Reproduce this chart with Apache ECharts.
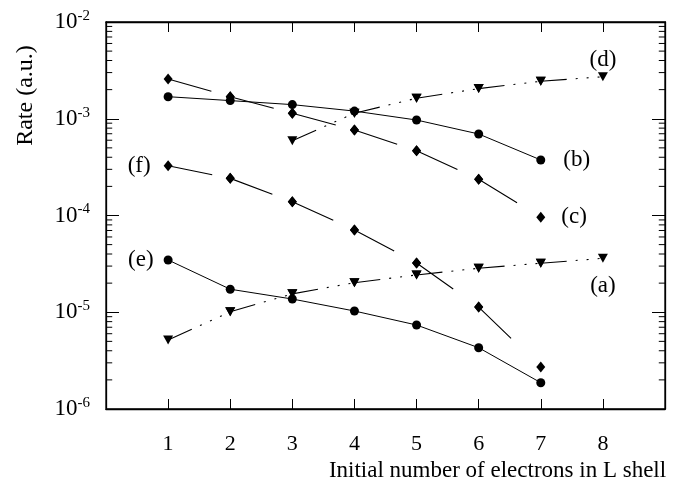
<!DOCTYPE html>
<html><head><meta charset="utf-8">
<script src="https://cdn.jsdelivr.net/npm/echarts@6/dist/echarts.min.js"></script>
<style>html,body{margin:0;padding:0;background:#fff}#c{width:680px;height:485px}</style>
</head><body><div id="c"></div>
<script>
// ---- data ----
const xTickLabels = [1, 2, 3, 4, 5, 6, 7, 8];
const xA = [1, 2, 3, 4, 5, 6, 7, 8];
const rateA = [5.16e-6, 1.01e-5, 1.55e-5, 2.02e-5, 2.43e-5, 2.85e-5, 3.21e-5, 3.61e-5];
const xB = [1, 2, 3, 4, 5, 6, 7];
const rateB = [1.69e-3, 1.54e-3, 1.40e-3, 1.20e-3, 9.7e-4, 6.96e-4, 3.75e-4];
const xC = [1, 2, 3, 4, 5, 6, 7];
const rateC = [2.58e-3, 1.69e-3, 1.14e-3, 7.65e-4, 4.68e-4, 2.37e-4, 9.58e-5];
const xD = [3, 4, 5, 6, 7, 8];
const rateD = [5.93e-4, 1.14e-3, 1.63e-3, 2.05e-3, 2.44e-3, 2.72e-3];
const xE = [1, 2, 3, 4, 5, 6, 7];
const rateE = [3.47e-5, 1.73e-5, 1.37e-5, 1.03e-5, 7.38e-6, 4.30e-6, 1.87e-6];
const xF = [1, 2, 3, 4, 5, 6, 7];
const rateF = [3.27e-4, 2.42e-4, 1.39e-4, 7.08e-5, 3.23e-5, 1.13e-5, 2.72e-6];
const decadeExponents = [-6, -5, -4, -3];
const minorMantissas = [2, 3, 4, 5, 6, 7, 8, 9];
const curveLabels = ['(a)', '(b)', '(c)', '(d)', '(e)', '(f)'];
const xAxisTitle = 'Initial number of electrons in L shell';
const yAxisTitle = 'Rate (a.u.)';

const FONT = '"Liberation Serif", "DejaVu Serif", serif';
const BLACK = '#000';
const LONG_DASH = [45, 1000];
const DASH_DOT = [26, 9, 2, 9, 2, 9, 2, 1000];
const DOWN_TRI = 'path://M0,0 L10,0 L5,9 Z';
const DIAMOND = 'path://M5,0 L10,6 L5,12 L0,6 Z';
const X_MIN = 0, X_MAX = 9, MINOR_LEN = 0.1;

// minor log ticks on left and right frame edges, drawn through the axes
const minorTickData = [];
decadeExponents.forEach(e => minorMantissas.forEach(m => {
  const v = m * Math.pow(10, e);
  minorTickData.push([X_MIN, v], [X_MIN + MINOR_LEN, v], null, [X_MAX, v], [X_MAX - MINOR_LEN, v], null);
}));

function labelled(x, y, text, position, distance) {
  return { value: [x, y], label: { show: true, formatter: text, position, distance,
    fontFamily: FONT, fontSize: 23, color: BLACK } };
}
function solidData(xs, ys, labelIdx, text, position, distance) {
  return xs.map((x, i) => i === labelIdx ? labelled(x, ys[i], text, position, distance) : [x, ys[i]]);
}
// broken into separate segments so each dash pattern restarts at a marker
function brokenData(xs, ys, labelIdx, text, position, distance) {
  const out = [];
  const n = xs.length;
  for (let i = 0; i < n - 1; i++) {
    out.push(i === labelIdx ? labelled(xs[i], ys[i], text, position, distance) : [xs[i], ys[i]]);
    out.push(i + 1 === labelIdx && i + 1 === n - 1 ? labelled(xs[i + 1], ys[i + 1], text, position, distance) : [xs[i + 1], ys[i + 1]]);
    if (i < n - 2) out.push(null);
  }
  return out;
}

function makeX(pos, labels) {
  const ax = { type: 'value', min: X_MIN, max: X_MAX, interval: 1, position: pos,
    axisLine: { show: true, onZero: false, lineStyle: { color: BLACK, width: 1.3 } },
    splitLine: { show: false },
    axisTick: { show: true, inside: true, length: 10, lineStyle: { color: BLACK, width: 1 } },
    axisLabel: labels ? { show: true, formatter: v => xTickLabels.includes(v) ? String(v) : '', fontFamily: FONT, fontSize: 22, color: BLACK, margin: 24 }
                      : { show: false } };
  if (labels) {
    ax.name = xAxisTitle; ax.nameLocation = 'middle'; ax.nameGap = 50;
    ax.nameTextStyle = { fontFamily: FONT, fontSize: 23, color: BLACK, padding: [0, 0, 0, 224] };
  }
  return ax;
}
function makeY(pos, labels) {
  const ax = { type: 'log', logBase: 10, min: 1e-6, max: 1e-2, position: pos,
    axisLine: { show: true, onZero: false, lineStyle: { color: BLACK, width: 1.3 } },
    splitLine: { show: false },
    axisTick: { show: true, inside: true, length: 13, lineStyle: { color: BLACK, width: 1 } },
    axisLabel: labels ? { show: true, margin: 16, formatter: v => '{b|10}{s|' + Math.round(Math.log10(v)) + '}',
        rich: { b: { fontFamily: FONT, fontSize: 23, color: BLACK },
                s: { fontFamily: FONT, fontSize: 15, color: BLACK, verticalAlign: 'top', padding: [0, 0, 12, 0] } } }
                      : { show: false } };
  if (labels) {
    ax.name = yAxisTitle; ax.nameLocation = 'middle'; ax.nameGap = 68;
    ax.nameTextStyle = { fontFamily: FONT, fontSize: 24, color: BLACK, padding: [0, 0, 0, 240] };
  }
  return ax;
}

const curve = (data, symbol, size, dash) => ({
  type: 'line', data, symbol, symbolSize: size, showSymbol: true, connectNulls: false,
  itemStyle: { color: BLACK, opacity: 1 },
  lineStyle: { color: BLACK, width: dash ? 1.1 : 1, type: dash || 'solid', cap: 'butt' }
});

const option = {
  animation: false,
  grid: { left: 106, right: 15, top: 22, bottom: 76, containLabel: false, outerBoundsMode: 'none',
    show: true, borderColor: BLACK, borderWidth: 1.3, backgroundColor: 'transparent' },
  xAxis: [makeX('bottom', true), makeX('top', false)],
  yAxis: [makeY('left', true), makeY('right', false)],
  series: [
    { type: 'line', data: minorTickData, symbol: 'none', connectNulls: false, clip: false,
      lineStyle: { color: BLACK, width: 1, type: 'solid' } },
    curve(solidData(xB, rateB, 6, curveLabels[1], 'right', 18), 'circle', 9, null),
    curve(solidData(xE, rateE, 0, curveLabels[4], 'left', 10), 'circle', 9, null),
    curve(brokenData(xC, rateC, 6, curveLabels[2], 'right', 16), DIAMOND, [9, 11], LONG_DASH),
    curve(brokenData(xF, rateF, 0, curveLabels[5], 'left', 13), DIAMOND, [9, 11], LONG_DASH),
    curve(brokenData(xA, rateA, 7, curveLabels[0], 'bottom', 12), DOWN_TRI, [10, 9], DASH_DOT),
    curve(brokenData(xD, rateD, 5, curveLabels[3], 'top', 1), DOWN_TRI, [10, 9], DASH_DOT)
  ]
};

const chart = echarts.init(document.getElementById('c'));
chart.setOption(option);
</script>
</body></html>
